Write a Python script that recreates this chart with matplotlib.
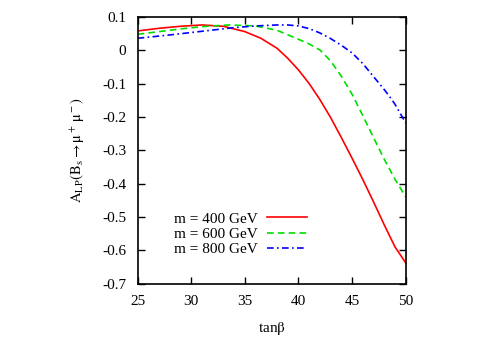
import matplotlib
matplotlib.use("Agg")
import matplotlib.pyplot as plt
import numpy as np

plt.rcParams['font.family'] = ['Liberation Serif', 'DejaVu Serif']
plt.rcParams['mathtext.fontset'] = 'stix'

tanb_400 = [25, 27, 29, 31, 33, 35, 36.5, 38, 39, 40, 41, 42, 43, 44, 45, 46, 47, 48, 49, 50]
alp_400 = [0.058, 0.066, 0.072, 0.076, 0.072, 0.056, 0.036, 0.006, -0.024, -0.059, -0.100, -0.148, -0.202, -0.262, -0.324, -0.388, -0.455, -0.524, -0.590, -0.638]

tanb_600 = [25, 27, 29, 31, 33.5, 36, 38, 40, 41, 42, 43, 44, 45, 46, 47, 48, 49, 50]
alp_600 = [0.048, 0.056, 0.064, 0.071, 0.076, 0.073, 0.060, 0.033, 0.019, 0.001, -0.032, -0.078, -0.132, -0.196, -0.262, -0.327, -0.387, -0.440]

tanb_800 = [25, 28, 31, 34, 36, 38, 39, 40, 41, 42, 43, 44, 45, 46, 47, 48, 48.5, 49, 50]
alp_800 = [0.036, 0.046, 0.057, 0.068, 0.073, 0.076, 0.076, 0.073, 0.065, 0.052, 0.035, 0.015, -0.008, -0.040, -0.079, -0.118, -0.139, -0.162, -0.218]

labels = ["m = 400 GeV", "m = 600 GeV", "m = 800 GeV"]
colors = ["#ff0000", "#00dd00", "#0000ff"]

fig = plt.figure(figsize=(4.95, 3.46), dpi=100)
ax = fig.add_axes([0.278, 0.1806, 0.5416, 0.7704])

ax.plot(tanb_400, alp_400, color=colors[0], lw=1.2, ls='-', label=labels[0])
ax.plot(tanb_600, alp_600, color=colors[1], lw=1.2, ls=(0, (4, 2.5)), label=labels[1])
ax.plot(tanb_800, alp_800, color=colors[2], lw=1.2, ls=(0, (4, 2, 1, 2)), label=labels[2])

ax.set_xlim(25, 50)
ax.set_ylim(-0.7, 0.1)
ax.set_xticks([25, 30, 35, 40, 45, 50])
ax.set_yticks([-0.7, -0.6, -0.5, -0.4, -0.3, -0.2, -0.1, 0, 0.1])
ax.set_yticklabels(["-0.7", "-0.6", "-0.5", "-0.4", "-0.3", "-0.2", "-0.1", "0", "0.1"])
ax.tick_params(direction='in', top=True, right=True, length=5, width=1, labelsize=11, pad=8)
for s in ax.spines.values():
    s.set_linewidth(1.2)

ax.set_xlabel(r"tan$\mathrm{\beta}$", fontsize=11, labelpad=9)
ax.set_ylabel(r"$\mathrm{A_{LP}(B_s \rightarrow \mu^+\,\mu^-)}$", fontsize=10.5, labelpad=11)

leg = ax.legend(loc='lower right', bbox_to_anchor=(0.655, 0.08), frameon=False,
                markerfirst=False, fontsize=11, handlelength=2.6,
                labelspacing=0.1, handletextpad=0.6, borderaxespad=0)
for t in leg.get_texts():
    t.set_ha('right')

fig.savefig("out.png", dpi=100)
